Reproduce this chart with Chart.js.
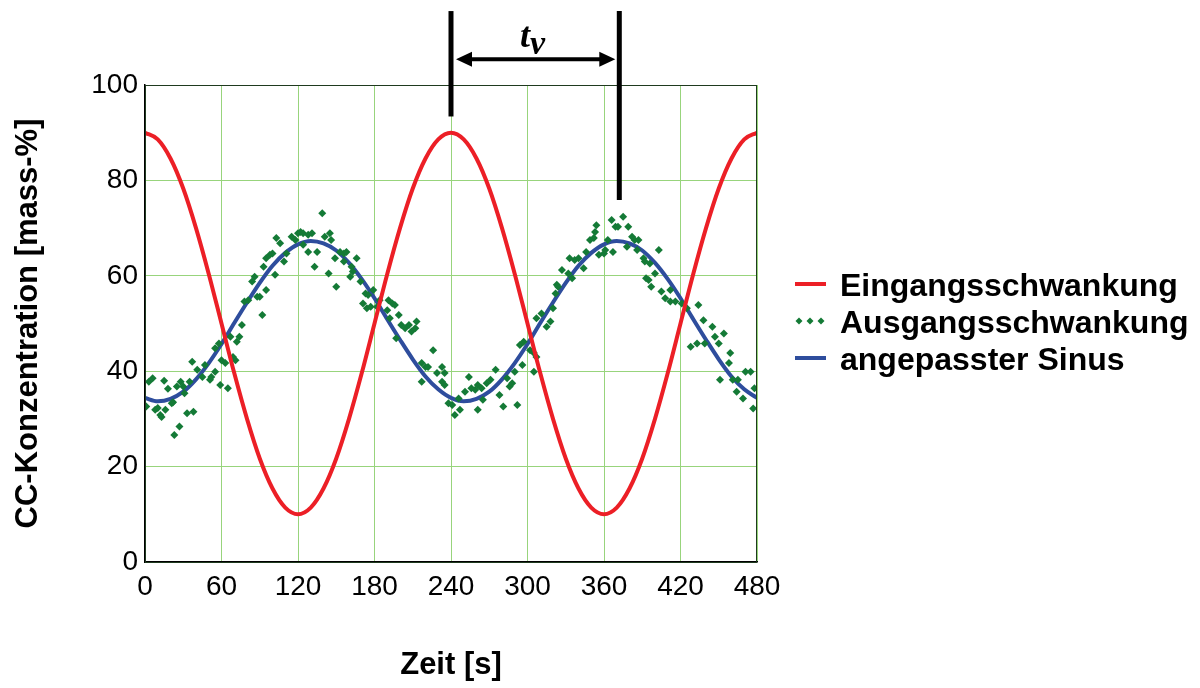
<!DOCTYPE html>
<html>
<head>
<meta charset="utf-8">
<script src="https://cdn.jsdelivr.net/npm/chart.js@4.4.1/dist/chart.umd.min.js"></script>
<style>
  html, body { margin: 0; padding: 0; background: #fff; }
  #wrap { width: 1200px; height: 688px; }
</style>
</head>
<body>
<div id="wrap"><canvas id="cc" width="1200" height="688"></canvas></div>
<script>
const seriesNames = ["Eingangsschwankung", "Ausgangsschwankung", "angepasster Sinus"];
const xTicks = [0, 60, 120, 180, 240, 300, 360, 420, 480];
const yTicks = [0, 20, 40, 60, 80, 100];

// curves sampled every 10 s
const sampleT = [0, 10, 20, 30, 40, 50, 60, 70, 80, 90, 100, 110, 120, 130, 140, 150, 160, 170, 180, 190,
  200, 210, 220, 230, 240, 250, 260, 270, 280, 290, 300, 310, 320, 330, 340, 350, 360, 370, 380, 390,
  400, 410, 420, 430, 440, 450, 460, 470, 480];
const inputV = [90, 88.6, 84.6, 78.3, 70, 60.4, 50, 39.6, 30, 21.7, 15.4, 11.4, 10, 11.4, 15.4, 21.7, 30, 39.6, 50, 60.4,
  70, 78.3, 84.6, 88.6, 90, 88.6, 84.6, 78.3, 70, 60.4, 50, 39.6, 30, 21.7, 15.4, 11.4, 10, 11.4, 15.4, 21.7,
  30, 39.6, 50, 60.4, 70, 78.3, 84.6, 88.6, 90];
const fitV = [34.4, 33.7, 34.2, 35.7, 38.3, 41.7, 45.7, 50.1, 54.4, 58.5, 62.1, 64.8, 66.6, 67.3, 66.8, 65.3, 62.7, 59.3, 55.3, 50.9,
  46.6, 42.5, 38.9, 36.2, 34.4, 33.7, 34.2, 35.7, 38.3, 41.7, 45.7, 50.1, 54.4, 58.5, 62.1, 64.8, 66.6, 67.3, 66.8, 65.3,
  62.7, 59.3, 55.3, 50.9, 46.6, 42.5, 38.9, 36.2, 34.4];

// measured output points
const outT = [1, 3, 6, 8, 10, 12, 13, 15, 16, 18, 21, 22, 23, 25, 27, 28, 30, 31, 33, 35, 37, 38, 41, 45, 47, 51, 52, 55, 55, 58,
  59, 60, 63, 65, 67, 69, 71, 72, 74, 76, 78, 81, 84, 86, 88, 90, 92, 93, 95, 95, 98, 100, 102, 103, 106, 109, 111, 115, 118, 120,
  122, 124, 124, 128, 128, 131, 133, 135, 139, 141, 144, 145, 146, 149, 150, 153, 156, 156, 158, 161, 162, 163, 166, 169, 171, 173, 174, 175, 177, 179,
  182, 184, 190, 191, 192, 194, 196, 197, 199, 201, 204, 207, 209, 212, 213, 217, 217, 220, 222, 226, 229, 233, 233, 235, 235, 238,
  241, 243, 246, 247, 251, 254, 256, 259, 261, 261, 264, 265, 268, 271, 275, 278, 281, 284, 286, 288, 290, 292, 294, 296, 297, 302, 305, 305, 307, 307,
  311, 315, 318, 320, 322, 323, 324, 327, 332, 333, 335, 337, 340, 344, 346, 349, 352, 353, 354, 356,
  360, 361, 363, 366, 367, 369, 371, 375, 378, 379, 382, 384, 386, 387, 391, 392, 393, 395, 396, 397, 400, 403, 405, 408, 412, 412, 416, 421, 425, 428,
  433, 434, 438, 439, 445, 447, 450, 451, 454, 458, 459, 461, 464, 465, 469, 471, 475, 477, 478];
const outV = [32.6, 37.8, 38.5, 31.9, 32.3, 30.8, 30.4, 38, 31.9, 36.3, 33.3, 33.5, 26.6, 36.8, 28.4, 37.8, 36.8, 35.4, 31.2, 37.8, 42, 31.5, 40.3, 38.8, 41.3, 38.2, 38.8, 39.9, 44.8, 45.8,
  37.1, 42.3, 41.7, 36.4, 47.2, 43, 42.3, 46.2, 47.2, 49.7, 54.6, 54.9, 58.8, 59.8, 55.6, 55.6, 51.8, 61.9, 57, 63.7, 64.4, 64.7, 60.2, 67.9, 66.8, 63, 64.7, 68.2, 67.5, 68.9,
  69.2, 68.9, 66.5, 68.6, 65, 68.9, 61.9, 65, 73.1, 68.2, 60.5, 68.9, 67.5, 63.7, 57.7, 65, 64.7, 63, 65, 59.8, 61.9, 60.9, 63.7, 58.8, 54.2, 56.3, 53.2, 56, 53.5, 57,
  53.5, 54.9, 52.8, 54.9, 51.1, 54.2, 53.9, 46.9, 51.8, 49.7, 49, 49.7, 48.3, 49, 50.4, 41.7, 37.8, 40.9, 40.9, 44.4, 39.6, 40.9, 37.8, 39.6, 37.1, 33.3,
  32.9, 30.8, 34.3, 31.9, 35.7, 38.8, 36.4, 36.1, 37.1, 31.9, 36.4, 34, 37.5, 38.2, 40.3, 35, 32.6, 38.5, 36.8, 37.5, 39.9, 32.9, 45.5, 41.3, 46.2, 44.4, 43.8, 39.9, 43, 51.1,
  52.1, 49.3, 50.4, 53.2, 56.3, 58.1, 57.7, 61.2, 60.5, 63.7, 59.5, 63.3, 63.7, 61.6, 65, 67.5, 67.9, 69.2, 70.6, 64.4,
  64.7, 65.4, 67.5, 71.7, 65, 70.3, 70.3, 72.4, 66.1, 70.3, 68.2, 67.5, 65.4, 67.5, 63.7, 63, 59.5, 59.1, 62.6, 57.7, 60.5, 65.4, 56.7, 55.3, 54.6, 57, 54.6, 54.2, 53.2, 45.1,
  45.8, 53.9, 50.7, 45.8, 49.3, 47.2, 45.8, 38.2, 47.9, 41.7, 43.8, 38.2, 35.7, 38.2, 34.3, 39.9, 39.9, 32.2, 36.4];

// delay marker t_v above the plot
const markerT = [240, 372];
const markerTopV = [115.5, 115.5];
const markerBottomV = [93.4, 75.9];
const arrowV = 105.4;
const labelV = 108;

const RED = "#ec1f26", GREEN = "#147a36", BLUE = "#2e4d9d";
const SANS = "'Liberation Sans', Arial, sans-serif";

const extras = {
  id: "extras",
  afterDraw(chart) {
    const { ctx, chartArea: a, scales: { x, y } } = chart;
    ctx.save();
    // frame
    ctx.strokeStyle = "#1f3a1f";
    ctx.lineWidth = 1;
    ctx.strokeRect(a.left + 0.5, a.top + 0.5, a.right - a.left - 1, a.bottom - a.top);

    // t_v marker
    ctx.strokeStyle = "#000";
    ctx.fillStyle = "#000";
    ctx.lineWidth = 5;
    markerT.forEach((t, i) => {
      const px = x.getPixelForValue(t);
      ctx.beginPath();
      ctx.moveTo(px, y.getPixelForValue(markerTopV[i]));
      ctx.lineTo(px, y.getPixelForValue(markerBottomV[i]));
      ctx.stroke();
    });
    const x1 = x.getPixelForValue(markerT[0]) + 5;
    const x2 = x.getPixelForValue(markerT[1]) - 4;
    const ay = y.getPixelForValue(arrowV);
    ctx.lineWidth = 4;
    ctx.beginPath();
    ctx.moveTo(x1 + 10, ay);
    ctx.lineTo(x2 - 10, ay);
    ctx.stroke();
    ctx.beginPath();
    ctx.moveTo(x1, ay); ctx.lineTo(x1 + 16, ay - 7.5); ctx.lineTo(x1 + 16, ay + 7.5); ctx.closePath();
    ctx.moveTo(x2, ay); ctx.lineTo(x2 - 16, ay - 7.5); ctx.lineTo(x2 - 16, ay + 7.5); ctx.closePath();
    ctx.fill();
    const mid = (x1 + x2) / 2 - 3;
    const ly = y.getPixelForValue(labelV);
    ctx.font = "italic bold 36px 'Liberation Serif', 'DejaVu Serif', serif";
    ctx.textBaseline = "alphabetic";
    ctx.textAlign = "left";
    const wt = ctx.measureText("t").width;
    ctx.font = "italic bold 34px 'Liberation Serif', 'DejaVu Serif', serif";
    const wv = ctx.measureText("v").width;
    const sx = mid - (wt + wv) / 2;
    ctx.font = "italic bold 36px 'Liberation Serif', 'DejaVu Serif', serif";
    ctx.fillText("t", sx, ly);
    ctx.font = "italic bold 34px 'Liberation Serif', 'DejaVu Serif', serif";
    ctx.fillText("v", sx + wt, ly + 7);

    // legend
    const lx = 795, tx = 840;
    const rows = [296, 333, 370];
    ctx.font = "bold 32px " + SANS;
    ctx.fillStyle = "#000";
    ctx.textBaseline = "alphabetic";
    chart.data.datasets.forEach((ds, i) => {
      const cy = rows[i] - 12;
      if (ds.showLine === false) {
        ctx.fillStyle = ds.backgroundColor;
        [799, 810, 821].forEach(px => {
          ctx.beginPath();
          ctx.moveTo(px, cy - 3.5); ctx.lineTo(px + 3.5, cy); ctx.lineTo(px, cy + 3.5); ctx.lineTo(px - 3.5, cy);
          ctx.closePath(); ctx.fill();
        });
      } else {
        ctx.strokeStyle = ds.borderColor;
        ctx.lineWidth = 4;
        ctx.beginPath(); ctx.moveTo(lx, cy); ctx.lineTo(lx + 31, cy); ctx.stroke();
      }
      ctx.fillStyle = "#000";
      ctx.fillText(ds.label, tx, rows[i]);
    });
    ctx.restore();
  }
};

new Chart(document.getElementById("cc"), {
  type: "line",
  data: {
    datasets: [
      {
        label: seriesNames[0],
        data: sampleT.map((t, i) => ({ x: t, y: inputV[i] })),
        borderColor: RED, borderWidth: 4, pointRadius: 0,
        cubicInterpolationMode: "monotone"
      },
      {
        label: seriesNames[1],
        data: outT.map((t, i) => ({ x: t, y: outV[i] })),
        showLine: false, pointStyle: "rectRot", pointRadius: 4,
        backgroundColor: GREEN, borderColor: GREEN, borderWidth: 0
      },
      {
        label: seriesNames[2],
        data: sampleT.map((t, i) => ({ x: t, y: fitV[i] })),
        borderColor: BLUE, borderWidth: 4, pointRadius: 0,
        cubicInterpolationMode: "monotone"
      }
    ]
  },
  options: {
    responsive: false,
    animation: false,
    layout: { padding: { top: 85, right: 443, left: 0, bottom: 0 } },
    plugins: { legend: { display: false }, tooltip: { enabled: false } },
    scales: {
      x: {
        type: "linear", min: 0, max: 480,
        afterBuildTicks: s => { s.ticks = xTicks.map(v => ({ value: v })); },
        afterFit: s => { s.height = 126; },
        grid: { color: "#98d47c", lineWidth: 1, drawTicks: false },
        border: { color: "#000", width: 1.5 },
        ticks: { color: "#000", font: { family: SANS, size: 28 }, padding: 8, maxRotation: 0 },
        title: { display: true, text: "Zeit [s]", color: "#000", font: { family: SANS, size: 31, weight: "bold" }, padding: { top: 4, bottom: 4 } }
      },
      y: {
        min: 0, max: 100,
        afterBuildTicks: s => { s.ticks = yTicks.map(v => ({ value: v })); },
        afterFit: s => { s.width = 145; },
        grid: { color: "#98d47c", lineWidth: 1, drawTicks: false },
        border: { color: "#000", width: 1.5 },
        ticks: { color: "#000", font: { family: SANS, size: 28 }, padding: 7 },
        title: { display: true, text: "CC-Konzentration [mass-%]", color: "#000", font: { family: SANS, size: 31, weight: "bold" }, padding: { top: 10, bottom: 4 } }
      }
    }
  },
  plugins: [extras]
});
</script>
</body>
</html>
